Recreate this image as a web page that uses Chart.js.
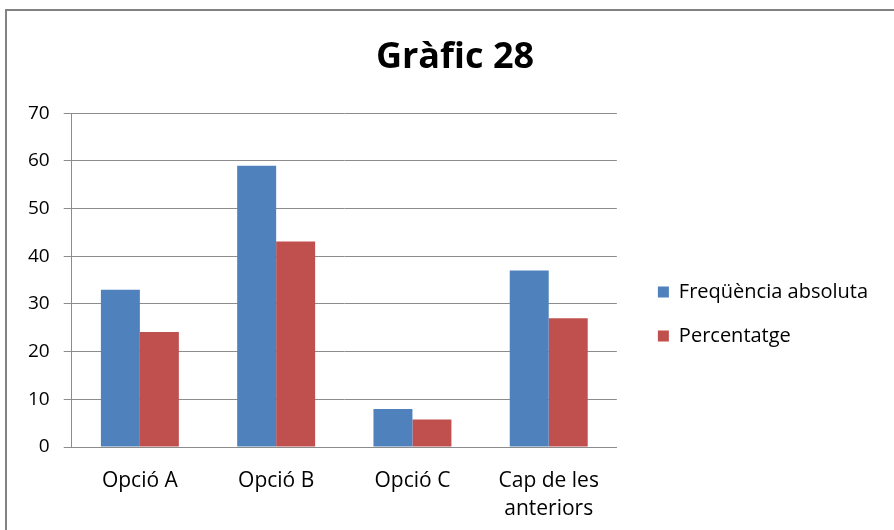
<!DOCTYPE html>
<html>
<head>
<meta charset="utf-8">
<script src="https://cdn.jsdelivr.net/npm/chart.js@4/dist/chart.umd.min.js"></script>
<style>
  html, body { margin: 0; padding: 0; background: #fff; }
  #wrap { position: relative; width: 894px; height: 530px; overflow: hidden; }
  #frame { position: absolute; left: 5px; top: 9px; width: 900px; height: 540px; border: 2px solid #828282; }
  #chart { position: absolute; left: 0; top: 0; }
</style>
</head>
<body>
<div id="wrap">
  <div id="frame"></div>
  <canvas id="chart" width="894" height="530"></canvas>
</div>
<script>
const CATEGORIES = ['Opció A', 'Opció B', 'Opció C', ['Cap de les', 'anteriors']]
const FREQ_ABS = [33, 59, 8, 37]
const PERCENT = [24.1, 43.1, 5.8, 27.0]
const Y_MIN = 0
const Y_MAX = 70
const Y_STEP = 10

Chart.defaults.font.family = "'Open Sans', sans-serif"
Chart.defaults.color = '#000'

// Excel puts the legend a bit lower / further right than Chart.js does
const nudge = {
  id: 'nudge',
  afterLayout(chart) {
    const lg = chart.legend
    lg.left += 17
    lg.right += 17
    lg.top += 52
    lg.bottom += 52
    const t = chart.titleBlock
    const dx = 455 - (t.left + t.right) / 2
    t.left += dx
    t.right += dx
  },
}

const ctx = document.getElementById('chart').getContext('2d')
new Chart(ctx, {
  type: 'bar',
  data: {
    labels: CATEGORIES,
    datasets: [
      {
        label: 'Freqüència absoluta',
        data: FREQ_ABS,
        backgroundColor: '#4F81BD',
        borderWidth: 0,
      },
      {
        label: 'Percentatge',
        data: PERCENT,
        backgroundColor: '#C0504D',
        borderWidth: 0,
      },
    ],
  },
  options: {
    responsive: false,
    animation: false,
    datasets: {
      bar: {categoryPercentage: 0.572, barPercentage: 1},
    },
    layout: {padding: {top: 0, left: 14, right: 33, bottom: 6}},
    plugins: {
      title: {
        display: true,
        text: 'Gràfic 28',
        font: {size: 36, weight: 'bold'},
        color: '#000',
        padding: {top: 36, bottom: 34},
      },
      legend: {
        position: 'right',
        maxWidth: 400,
        labels: {
          boxWidth: 11,
          boxHeight: 11,
          padding: 24,
          font: {size: 20},
          color: '#000',
        },
      },
      tooltip: {enabled: false},
    },
    scales: {
      x: {
        grid: {display: false, drawTicks: true, tickLength: 19},
        border: {display: true, color: '#8c8c8c', width: 1},
        ticks: {font: {size: 21, lineHeight: 1.38}, padding: 0, maxRotation: 0},
      },
      y: {
        min: Y_MIN,
        max: Y_MAX,
        grid: {color: '#8c8c8c', lineWidth: 1, tickLength: 8},
        border: {color: '#8c8c8c', width: 1},
        ticks: {stepSize: Y_STEP, font: {size: 19}, padding: 14},
      },
    },
  },
  plugins: [nudge],
})
</script>
</body>
</html>
